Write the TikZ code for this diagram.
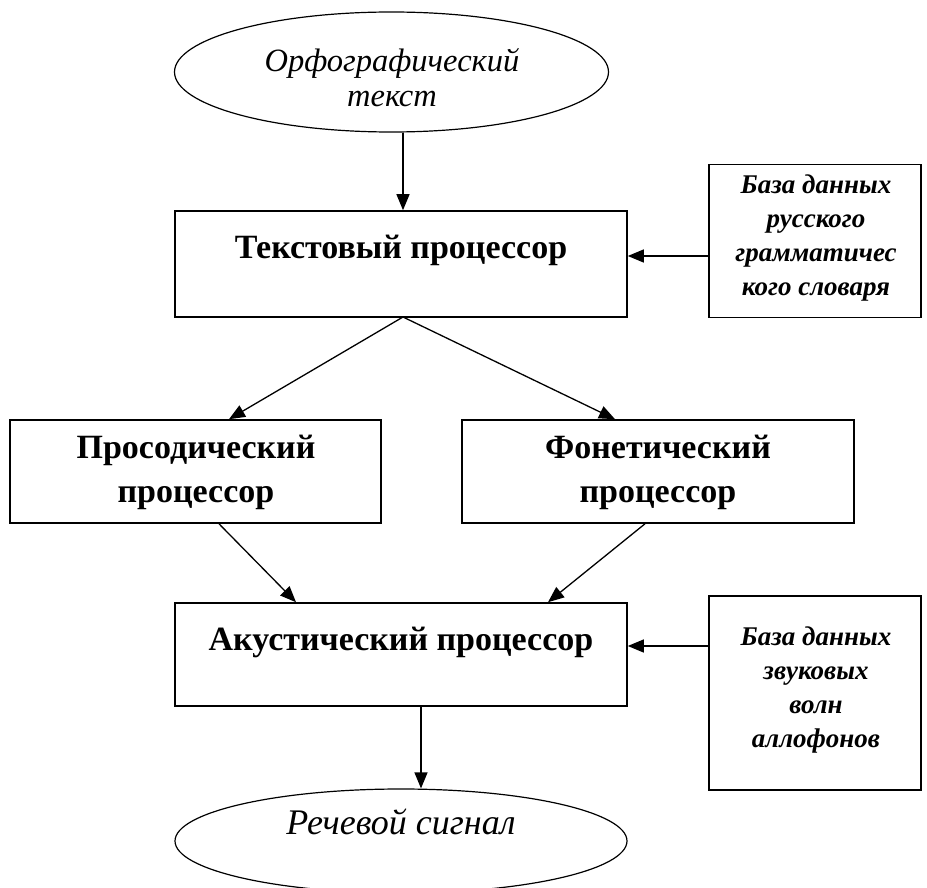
\documentclass[tikz,border=0pt]{standalone}
\usepackage{fontspec}
\setmainfont{Liberation Serif}
\usetikzlibrary{arrows.meta,shapes.geometric}
\begin{document}
\begin{tikzpicture}[x=1pt,y=-1pt,
  boxshape/.style={draw, line width=1.6pt, rectangle, inner sep=0pt},
  ellshape/.style={draw, line width=1.2pt, ellipse, inner sep=0pt},
  proctext/.style={font=\bfseries\fontsize{34}{44}\selectfont, align=center, inner sep=0pt},
  dbtext/.style={font=\bfseries\itshape\fontsize{27}{34}\selectfont, align=center, inner sep=0pt},
  elltext/.style={font=\itshape\fontsize{32.5}{35}\selectfont, align=center, inner sep=0pt},
  conn/.style={line width=1.3pt, -{Triangle[length=16pt,width=13pt]}},
  plain/.style={line width=1.3pt}]
\useasboundingbox (0,0) rectangle (927,888);
% top ellipse
\node[ellshape, minimum width=434pt, minimum height=120pt] (ot) at (391.5,72) {};
\node[elltext] (otl) at (392,78) {Орфографический\\текст};
% text processor
\node[boxshape, minimum width=452pt, minimum height=106pt] (tp) at (401,264) {};
\node[proctext] (tpl) at (401,250) {Текстовый процессор};
% db 1
\node[boxshape, minimum width=212pt, minimum height=153pt] (db1) at (815,241) {};
\node[dbtext] (db1l) at (816,238) {База данных\\русского\\грамматичес\\кого словаря};
% prosodic / phonetic
\node[boxshape, minimum width=371pt, minimum height=103pt] (pp) at (195.5,471.5) {};
\node[proctext] (ppl) at (196,472) {Просодический\\процессор};
\node[boxshape, minimum width=392pt, minimum height=103pt] (fp) at (658,471.5) {};
\node[proctext] (fpl) at (658,472) {Фонетический\\процессор};
% acoustic
\node[boxshape, minimum width=452pt, minimum height=103pt] (ap) at (401,654.5) {};
\node[proctext] (apl) at (401,642) {Акустический процессор};
% db 2
\node[boxshape, minimum width=212pt, minimum height=194pt] (db2) at (815,693) {};
\node[dbtext] (db2l) at (816,690) {База данных\\звуковых\\волн\\аллофонов};
% bottom ellipse
\node[ellshape, minimum width=452pt, minimum height=104pt] (rs) at (401,841) {};
\node[elltext, font=\itshape\fontsize{36}{40}\selectfont] (rsl) at (401,822) {Речевой сигнал};
% connectors
\coordinate (tpb) at (403,317);
\draw[conn] (ot.south -| tpb) -- (tp.north -| tpb);
\draw[conn] (db1.west |- 0,256) -- (tp.east |- 0,256);
\draw[conn] (tpb) -- (pp.north -| 229,0);
\draw[conn] (tpb) -- (fp.north -| 615,0);
\draw[conn] (pp.south -| 219,0) -- (ap.north -| 296,0);
\draw[conn] (fp.south -| 645,0) -- (ap.north -| 548,0);
\draw[conn] (db2.west |- 0,646) -- (ap.east |- 0,646);
\draw[conn] (ap.south -| 421,0) -- (rs.north -| 421,0);
\end{tikzpicture}
\end{document}
